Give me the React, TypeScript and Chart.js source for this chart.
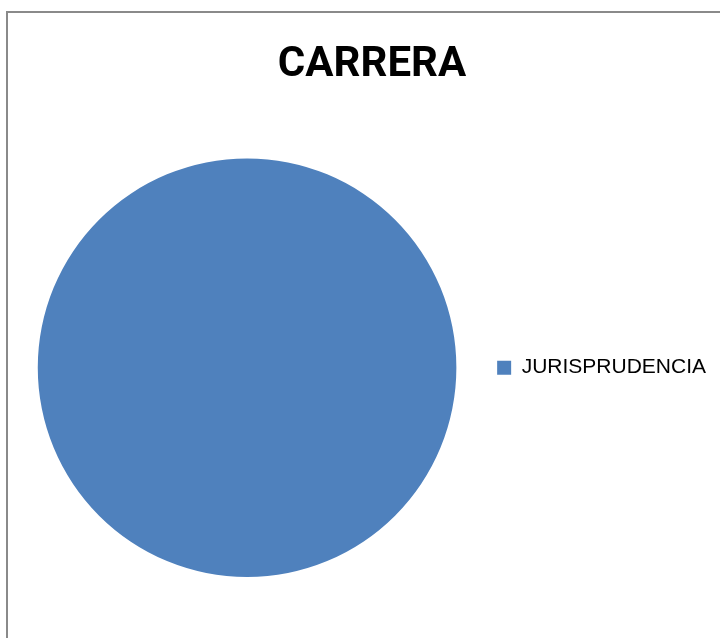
import React, { useEffect, useRef } from "react";
import { Chart, registerables } from "chart.js";

Chart.register(...registerables);

const chartTitle = "CARRERA";
const categories = ["JURISPRUDENCIA"];
const values = [100];
const colors = ["#4F81BD"];

export default function App() {
  const ref = useRef<HTMLCanvasElement | null>(null);

  useEffect(() => {
    if (!ref.current) return;
    const chart = new Chart(ref.current, {
      type: "pie",
      data: {
        labels: categories,
        datasets: [
          {
            data: values,
            backgroundColor: colors,
            borderWidth: 0,
          },
        ],
      },
      options: {
        animation: false,
        responsive: false,
        maintainAspectRatio: false,
        layout: { padding: { left: 28, right: 4, top: 0, bottom: 61 } },
        plugins: {
          tooltip: { enabled: false },
          title: {
            display: true,
            text: chartTitle,
            color: "#000000",
            font: {
              family: 'Roboto, "Liberation Sans", sans-serif',
              size: 42,
              weight: "bold",
              lineHeight: 1.2,
            },
            padding: { top: 40, bottom: 68 },
          },
          legend: {
            display: true,
            position: "right",
            fullSize: false,
            labels: {
              color: "#000000",
              boxWidth: 14,
              boxHeight: 14,
              padding: 31,
              font: { family: '"Liberation Sans", Arial, sans-serif', size: 21 },
            },
          },
        },
      },
    });
    return () => chart.destroy();
  }, []);

  return (
    <div style={{ position: "fixed", left: 0, top: 0, width: 720, height: 638, overflow: "hidden", background: "#fff" }}>
      <div
        style={{
          position: "absolute",
          left: 6,
          top: 11,
          width: 760,
          height: 700,
          border: "2px solid #8a8a8a",
          boxSizing: "border-box",
        }}
      />
      <canvas ref={ref} width={720} height={638} style={{ position: "absolute", left: 0, top: 0 }} />
    </div>
  );
}
